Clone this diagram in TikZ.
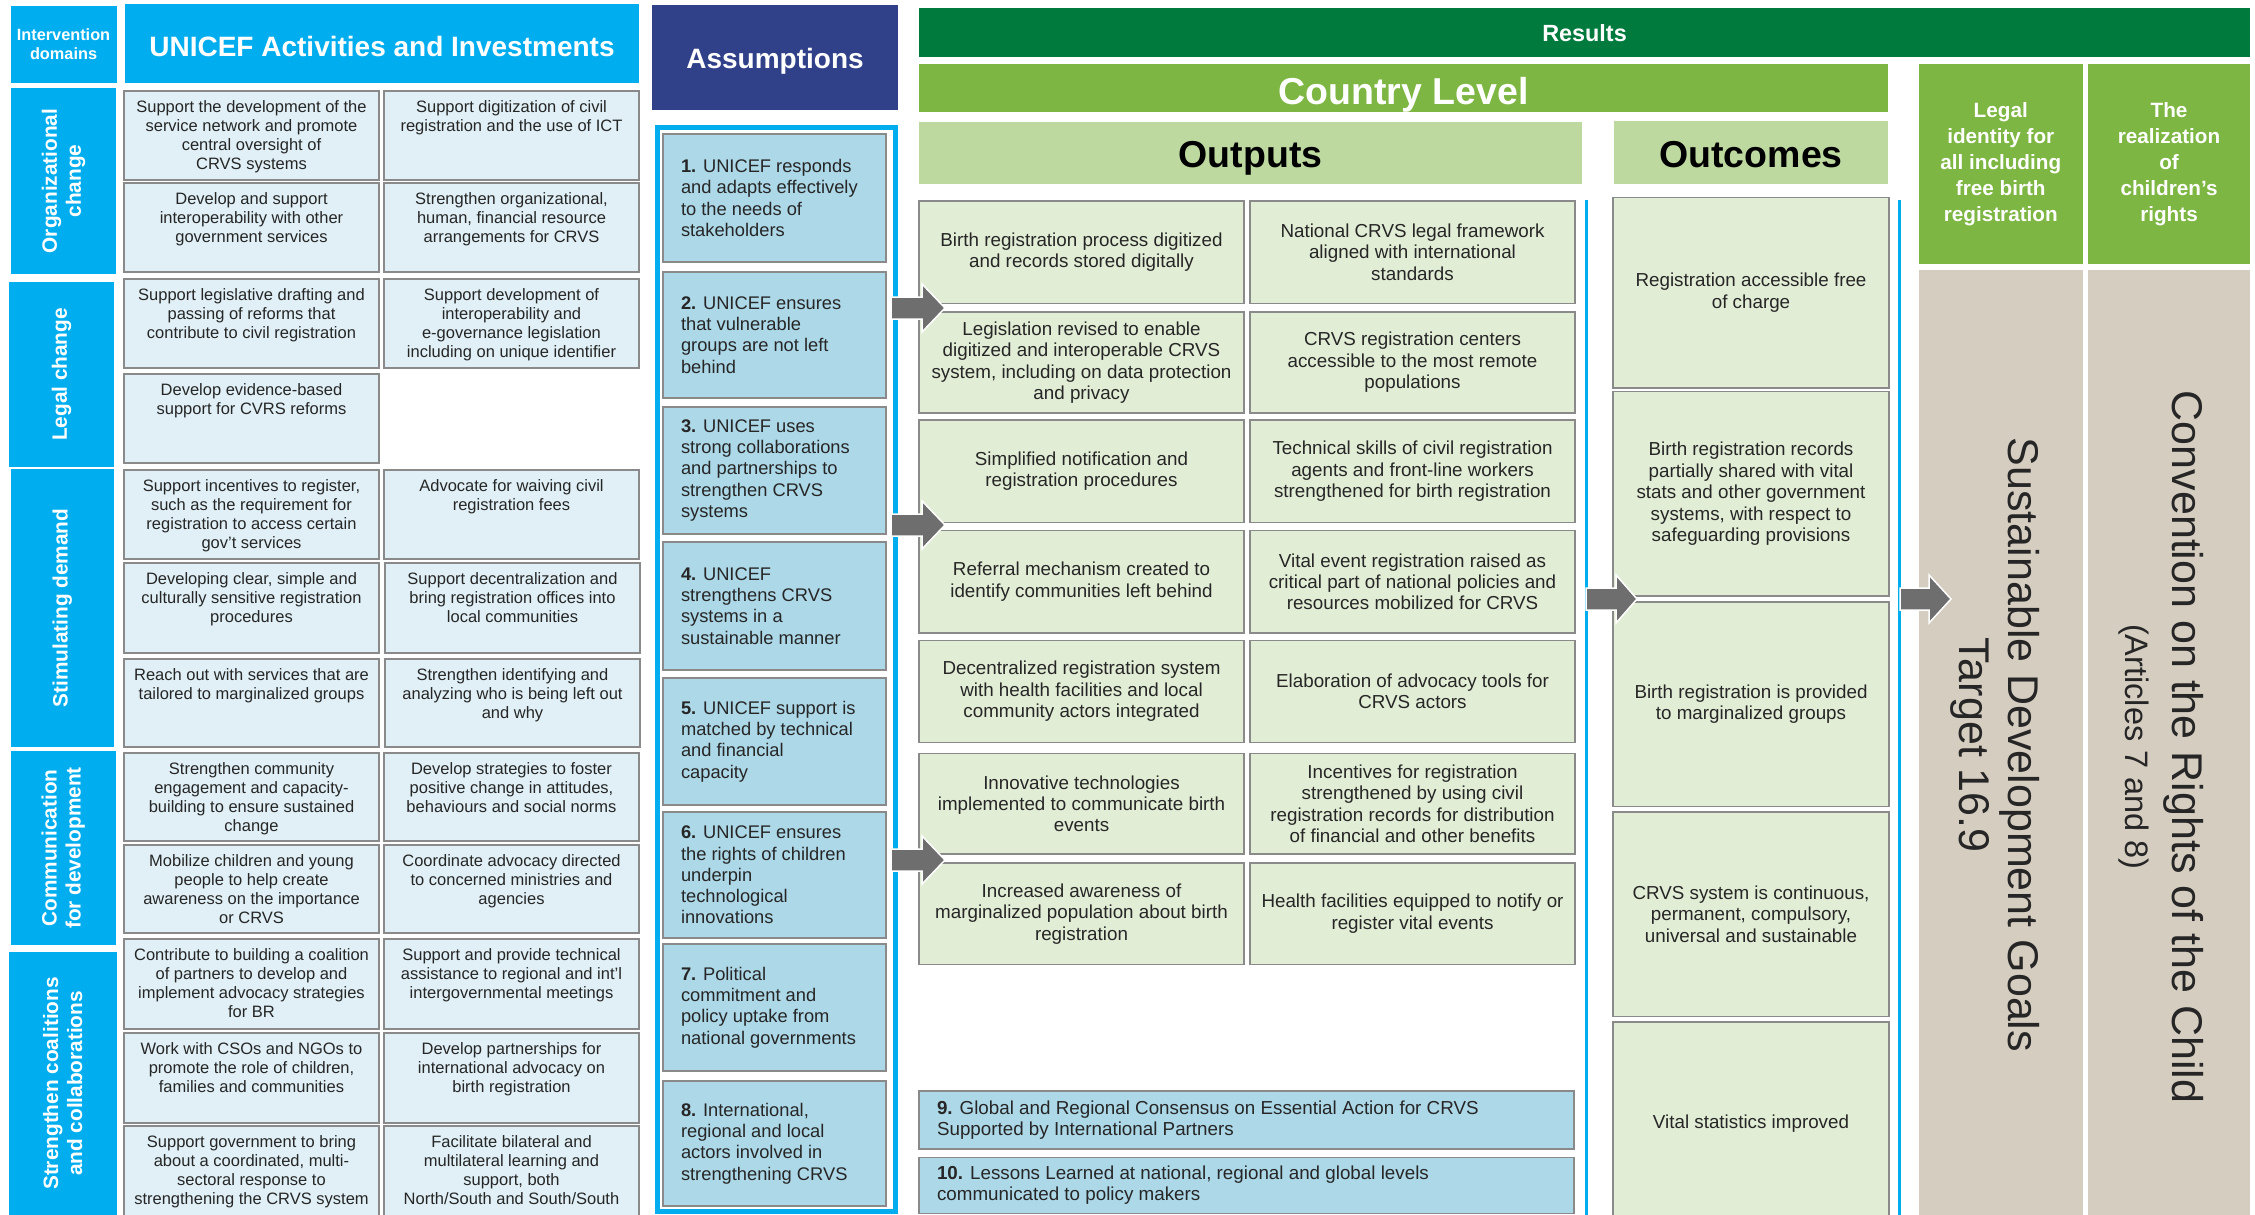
\documentclass[tikz,border=0pt]{standalone}
\usepackage{fontspec}
\setmainfont{Liberation Sans}
\usetikzlibrary{calc}
\definecolor{ucyan}{HTML}{00AEEF}
\definecolor{actfill}{HTML}{E0F0F6}
\definecolor{asmhead}{HTML}{30418A}
\definecolor{asmfill}{HTML}{ADD8E8}
\definecolor{resgreen}{HTML}{007A3D}
\definecolor{midgreen}{HTML}{7DB642}
\definecolor{lightgreen}{HTML}{BDD9A0}
\definecolor{outfill}{HTML}{E2EDD6}
\definecolor{tanbg}{HTML}{D6CDC1}
\definecolor{arrgray}{HTML}{6E6E6E}
\definecolor{cellborder}{HTML}{8A8A8A}
\definecolor{txt}{HTML}{262626}
\newcommand\bx[6]{\node[#1, anchor=north west, minimum width={(#5)-(#3)}, minimum height={(#6)-(#4)}] (#2) at (#3,#4) {};}
\newcommand\act[6]{\bx{actbox}{#1}{#2}{#3}{#4}{#5}\node[acttext, anchor=north] (#1t) at ($(#1.north)+(0,9.5)$) {#6};}
\newcommand\asm[4]{\bx{asmbox}{#1}{663}{#2}{886}{#3}\node[asmtext, anchor=west] (#1t) at ($(#1.west)+(18,0)$) {#4};}
\newcommand\ob[6]{\node[outbox, anchor=north west, minimum width={(#4)-(#2)}, minimum height={(#5)-(#3)}] (#1) at (#2,#3) {#6};}
\newcommand\blockarrow[3]{\filldraw[fill=arrgray, draw=white, line width=1.5pt, line join=miter] ($(#1)+(0,-11)$) -- ++(#2,0) -- ++(0,-13) -- ++(#3,24) -- ++(-#3,24) -- ++(0,-13) -- ++(-#2,0) -- cycle;}
\begin{document}
\begin{tikzpicture}[x=1pt,y=-1pt,
  every node/.style={inner sep=0pt, outer sep=0pt},
  solid/.style={fill=#1, draw=none},
  actbox/.style={draw=cellborder, line width=1.8pt, fill=actfill},
  acttext/.style={font=\fontsize{16.5}{19}\selectfont, text=txt, align=center},
  asmbox/.style={draw=cellborder, line width=1.8pt, fill=asmfill},
  asmtext/.style={font=\fontsize{18.3}{21.2}\selectfont, text=txt, align=left},
  outbox/.style={draw=cellborder, line width=1.8pt, fill=outfill, font=\fontsize{18.8}{21.4}\selectfont, text=txt, align=center},
  domtext/.style={font=\bfseries\fontsize{20.8}{24}\selectfont, text=white, align=center, rotate=90},
  whitehead/.style={font=\bfseries\fontsize{#1}{#1}\selectfont, text=white, anchor=base},
  frame/.style={draw=ucyan, line width=5pt},
  blueline/.style={draw=ucyan, line width=3pt},
  bigrot/.style={text=txt, align=center, rotate=-90}]
\useasboundingbox[fill=white] (0,0) rectangle (2255,1215);

% ---------- left headers ----------
\bx{solid=ucyan}{idom}{10.5}{5.7}{116.6}{83.3}
\node[font=\bfseries\fontsize{16.3}{19}\selectfont, text=white, align=center] (idomt) at (idom.center) {Intervention\\domains};
\bx{solid=ucyan}{acthdr}{125}{4}{639}{83}
\node[whitehead=28] (acthdrt) at (382,56.5) {UNICEF Activities and Investments};

% ---------- domains ----------
\bx{solid=ucyan}{dorg}{11}{88}{116}{274}
\node[domtext] (dorgt) at (dorg.center) {Organizational\\change};
\bx{solid=ucyan}{dleg}{9}{282}{114}{467}
\node[domtext] (dlegt) at (dleg.center) {Legal change};
\bx{solid=ucyan}{dstim}{10.5}{469}{114}{747}
\node[domtext] (dstimt) at (dstim.center) {Stimulating demand};
\bx{solid=ucyan}{dcomm}{10.5}{751}{116}{945}
\node[domtext] (dcommt) at (dcomm.center) {Communication\\for development};
\bx{solid=ucyan}{dstr}{9}{952}{116.6}{1220}
\node[domtext] (dstrt) at (62.8,1083.5) {Strengthen coalitions\\and collaborations};

% ---------- activities ----------
\act{r1a}{124}{91}{379}{180}{Support the development of the\\service network and promote\\central oversight of\\CRVS systems}
\act{r1b}{384}{91}{639}{180}{Support digitization of civil\\registration and the use of ICT}
\act{r2a}{124}{183}{379}{272}{Develop and support\\interoperability with other\\government services}
\act{r2b}{384}{183}{639}{272}{Strengthen organizational,\\human, financial resource\\arrangements for CRVS}
\act{r3a}{124}{279}{379}{368}{Support legislative drafting and\\passing of reforms that\\contribute to civil registration}
\act{r3b}{384}{279}{639}{368}{Support development of\\interoperability and\\e-governance legislation\\including on unique identifier}
\act{r4a}{124}{374}{379}{463}{Develop evidence-based\\support for CVRS reforms}
\act{r5a}{124}{470}{379}{559}{Support incentives to register,\\such as the requirement for\\registration to access certain\\gov’t services}
\act{r5b}{384}{470}{639}{559}{Advocate for waiving civil\\registration fees}
\act{r6a}{124}{563}{379}{653}{Developing clear, simple and\\culturally sensitive registration\\procedures}
\act{r6b}{385}{563}{640}{653}{Support decentralization and\\bring registration offices into\\local communities}
\act{r7a}{124}{659}{379}{747}{Reach out with services that are\\tailored to marginalized groups}
\act{r7b}{385}{659}{640}{747}{Strengthen identifying and\\analyzing who is being left out\\and why}
\act{r8a}{124}{753}{379}{841}{Strengthen community\\engagement and capacity-\\building to ensure sustained\\change}
\act{r8b}{384}{753}{639}{841}{Develop strategies to foster\\positive change in attitudes,\\behaviours and social norms}
\act{r9a}{124}{845}{379}{933}{Mobilize children and young\\people to help create\\awareness on the importance\\or CRVS}
\act{r9b}{384}{845}{639}{933}{Coordinate advocacy directed\\to concerned ministries and\\agencies}
\act{r10a}{124}{939}{379}{1029}{Contribute to building a coalition\\of partners to develop and\\implement advocacy strategies\\for BR}
\act{r10b}{384}{939}{639}{1029}{Support and provide technical\\assistance to regional and int’l\\intergovernmental meetings}
\act{r11a}{124}{1033}{379}{1123}{Work with CSOs and NGOs to\\promote the role of children,\\families and communities}
\act{r11b}{384}{1033}{639}{1123}{Develop partnerships for\\international advocacy on\\birth registration}
\act{r12a}{124}{1126}{379}{1222}{Support government to bring\\about a coordinated, multi-\\sectoral response to\\strengthening the CRVS system}
\act{r12b}{384}{1126}{639}{1222}{Facilitate bilateral and\\multilateral learning and\\support, both\\North/South and South/South}

% ---------- assumptions ----------
\bx{solid=asmhead}{asmhdr}{652}{5.5}{898}{109.5}
\node[whitehead=28] (asmhdrt) at (775,69) {Assumptions};
\bx{frame}{asmframe}{657}{127.5}{895}{1211.5}
\asm{a1}{134}{262}{\textbf{1.} UNICEF responds\\and adapts effectively\\to the needs of\\stakeholders}
\asm{a2}{272}{398}{\textbf{2.} UNICEF ensures\\that vulnerable\\groups are not left\\behind}
\asm{a3}{407}{534}{\textbf{3.} UNICEF uses\\strong collaborations\\and partnerships to\\strengthen CRVS\\systems}
\asm{a4}{542}{670}{\textbf{4.} UNICEF\\strengthens CRVS\\systems in a\\sustainable manner}
\asm{a5}{678}{805}{\textbf{5.} UNICEF support is\\matched by technical\\and financial\\capacity}
\asm{a6}{812}{938}{\textbf{6.} UNICEF ensures\\the rights of children\\underpin\\technological\\innovations}
\asm{a7}{944}{1071}{\textbf{7.} Political\\commitment and\\policy uptake from\\national governments}
\asm{a8}{1081}{1206}{\textbf{8.} International,\\regional and local\\actors involved in\\strengthening CRVS}

% ---------- results headers ----------
\bx{solid=resgreen}{results}{919}{8}{2250}{57}
\node[whitehead=23.4] (resultst) at (1584.5,42) {Results};
\bx{solid=midgreen}{country}{919}{64.5}{1888}{111.5}
\node[whitehead=37.5] (countryt) at (1403.5,104) {Country Level};
\bx{solid=lightgreen}{outhdr}{919}{121.5}{1582}{184}
\node[font=\bfseries\fontsize{37.5}{37.5}\selectfont, text=black, anchor=base] (outhdrt) at (1250.5,167) {Outputs};
\bx{solid=lightgreen}{ochdr}{1614}{121}{1888}{184}
\node[font=\bfseries\fontsize{37.5}{37.5}\selectfont, text=black, anchor=base] (ochdrt) at (1751,167) {Outcomes};
\bx{solid=midgreen}{legal}{1919}{64.5}{2082.5}{264}
\node[font=\bfseries\fontsize{20.7}{26}\selectfont, text=white, align=center] (legalt) at (legal.center) {Legal\\identity for\\all including\\free birth\\registration};
\bx{solid=midgreen}{realiz}{2088}{64.5}{2250}{264}
\node[font=\bfseries\fontsize{20.7}{26}\selectfont, text=white, align=center] (realizt) at (realiz.center) {The\\realization\\of\\children’s\\rights};
\bx{solid=tanbg}{sdg}{1919}{270}{2082.5}{1220}
\node[bigrot, font=\fontsize{43}{49}\selectfont] (sdgt) at (1995,745) {Sustainable Development Goals\\Target 16.9};
\bx{solid=tanbg}{crc}{2088}{270}{2250}{1220}
\node[bigrot, font=\fontsize{43}{47.5}\selectfont] (crct) at (2161,747) {Convention on the Rights of the Child\\{\fontsize{32.5}{36}\selectfont (Articles 7 and 8)}};

% ---------- outputs ----------
\ob{o1a}{919}{201}{1244}{303.5}{Birth registration process digitized\\and records stored digitally}
\ob{o1b}{1250}{201}{1575}{303.5}{National CRVS legal framework\\aligned with international\\standards}
\ob{o2a}{919}{312}{1244}{413}{Legislation revised to enable\\digitized and interoperable CRVS\\system, including on data protection\\and privacy}
\ob{o2b}{1250}{312}{1575}{413}{CRVS registration centers\\accessible to the most remote\\populations}
\ob{o3a}{919}{420}{1244}{522.5}{Simplified notification and\\registration procedures}
\ob{o3b}{1250}{420}{1575}{522.5}{Technical skills of civil registration\\agents and front-line workers\\strengthened for birth registration}
\ob{o4a}{919}{530.5}{1244}{633}{Referral mechanism created to\\identify communities left behind}
\ob{o4b}{1250}{530.5}{1575}{633}{Vital event registration raised as\\critical part of national policies and\\resources mobilized for CRVS}
\ob{o5a}{919}{640.5}{1244}{742.5}{Decentralized registration system\\with health facilities and local\\community actors integrated}
\ob{o5b}{1250}{640.5}{1575}{742.5}{Elaboration of advocacy tools for\\CRVS actors}
\ob{o6a}{919}{753.5}{1244}{854}{Innovative technologies\\implemented to communicate birth\\events}
\ob{o6b}{1250}{753.5}{1575}{854}{Incentives for registration\\strengthened by using civil\\registration records for distribution\\of financial and other benefits}
\ob{o7a}{919}{863}{1244}{964.5}{Increased awareness of\\marginalized population about birth\\registration}
\ob{o7b}{1250}{863}{1575}{964.5}{Health facilities equipped to notify or\\register vital events}

\bx{asmbox}{g9}{919}{1091}{1574}{1149}
\node[asmtext, font=\fontsize{18.8}{21}\selectfont, anchor=west] (g9t) at ($(g9.west)+(18,0)$) {\textbf{9.} Global and Regional Consensus on Essential Action for CRVS\\Supported by International Partners};
\bx{asmbox}{g10}{919}{1157.5}{1574}{1213.5}
\node[asmtext, font=\fontsize{18.8}{21}\selectfont, anchor=west] (g10t) at ($(g10.west)+(18,0)$) {\textbf{10.} Lessons Learned at national, regional and global levels\\communicated to policy makers};

% ---------- outcomes ----------
\ob{c1}{1613}{197.5}{1889}{388}{Registration accessible free\\of charge}
\ob{c2}{1613}{391.5}{1889}{596}{Birth registration records\\partially shared with vital\\stats and other government\\systems, with respect to\\safeguarding provisions}
\ob{c3}{1613}{602}{1889}{806.5}{Birth registration is provided\\to marginalized groups}
\ob{c4}{1613}{812}{1889}{1016.5}{CRVS system is continuous,\\permanent, compulsory,\\universal and sustainable}
\ob{c5}{1613}{1022}{1889}{1226}{Vital statistics improved}

% ---------- blue rails ----------
\coordinate (railAtop) at (1586,200);
\coordinate (railAbot) at (1586,1220);
\coordinate (railBtop) at (1899,200);
\coordinate (railBbot) at (1899,1220);
\draw[blueline] (railAtop) -- (railAbot);
\draw[blueline] (railBtop) -- (railBbot);

% ---------- block arrows ----------
\coordinate (ar1) at ($(asmframe.east |- 0,308)+(-4,0)$);
\coordinate (ar2) at ($(asmframe.east |- 0,525)+(-4,0)$);
\coordinate (ar3) at ($(asmframe.east |- 0,860)+(-4,0)$);
\coordinate (ar4) at (railAtop |- 0,599);
\coordinate (ar5) at ($(railBtop |- 0,599)+(1,0)$);
\blockarrow{ar1}{31}{23}
\blockarrow{ar2}{31}{23}
\blockarrow{ar3}{31}{23}
\blockarrow{ar4}{30}{21}
\blockarrow{ar5}{29}{22}
\end{tikzpicture}
\end{document}
